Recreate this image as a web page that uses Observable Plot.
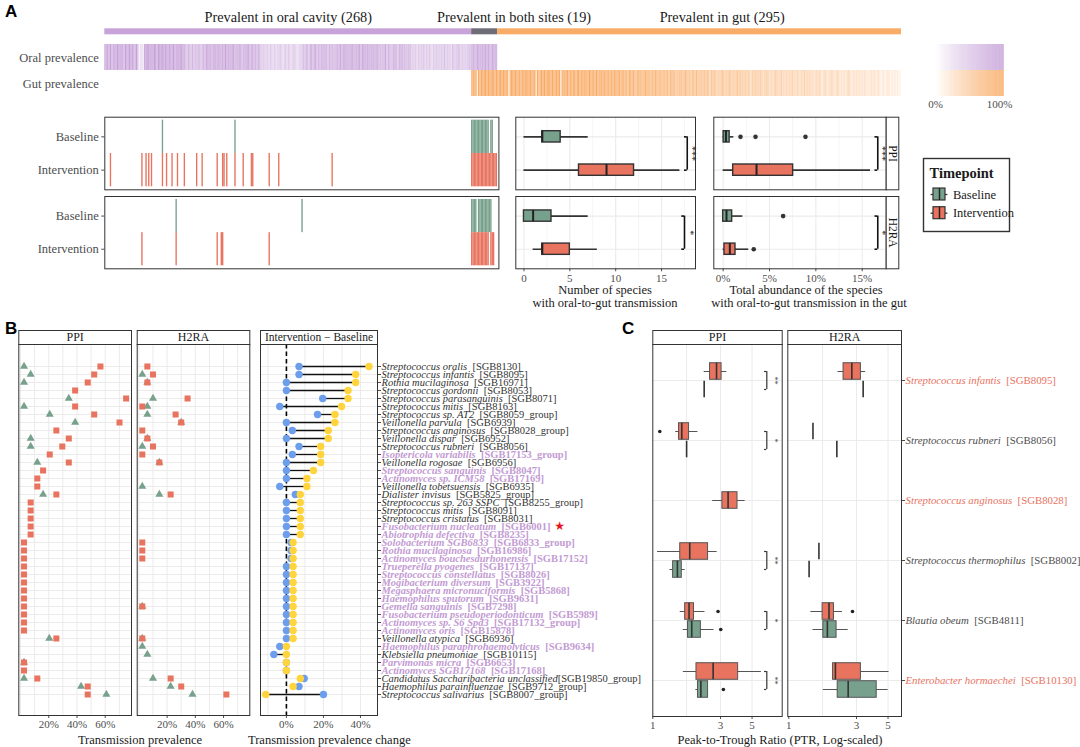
<!DOCTYPE html>
<html>
<head>
<meta charset="utf-8">
<script src="https://cdn.jsdelivr.net/npm/d3@7"></script>
<script src="https://cdn.jsdelivr.net/npm/@observablehq/plot@0.6"></script>
<style>
html,body{margin:0;padding:0;background:#fff;}
#root{position:relative;width:1080px;height:747px;overflow:hidden;background:#fff;}
#root svg text{font-family:'Liberation Serif','Times New Roman',serif;}
</style>
</head>
<body>
<div id="root"></div>
<script>
// ======================= DATA =======================
// Panel A – species groups
const groupNames = ["Prevalent in oral cavity (268)", "Prevalent in both sites (19)", "Prevalent in gut (295)"];
const groupCounts = [268, 19, 295];
const groupLabelAt = [134, 299, 451];          // label anchor (species index)
// Prevalence per species, in ninths (0 = 0%, 9 = 100%), read from the heat strips
const oralPrevalenceDeciles = [
  "8787968789","7978698798","8779613328","9898789879","8988978878",
  "9787988876","5765756576","5676878768","7877868797","8687876787",
  "6768786786","7676545445","3543534454","3453543454","3344565765",
  "7767857676","8675767576","7786878768","7876878687","8687687687",
  "6757685766","5876576857","6576454535","4546354543","5454545464",
  "5453654565","4545456578","6787868787","8678787"];
const gutPrevalenceDeciles = [
  "8979297989","9897989798","8989798279","9798797898","8979879297",
  "7989798979","8798928797","9787987897","8797879878","7978797887",
  "8787978787","7877687786","6787676876","7676867676","6767576765",
  "6576567656","5665756565","6565465654","5456545465","4545646454",
  "5454354545","4543454434","3454345343","4343534343","3435343433",
  "3343432343","2334323432","3232343223","2323232322","2232322321",
  "2212221212","1211"];
const timepoints = ["Baseline", "Intervention"];
// species index with oral-to-gut transmission (single index or [from, to] run)
const transPPIBaseline = [42, 95, [268, 280], [282, 283]];
const transPPIIntervention = [4, 27, 30, 32, 34, 42, 45, 49, 53, 58, 67, 71, 82, 86, 87, 89, 95, 101, 107, 108, 120, 127, 166, [268, 286]];
const transH2RABaseline = [52, 144, [268, 271], [273, 282]];
const transH2RAIntervention = [27, 52, 82, 85, 86, 120, [268, 280], [282, 284]];
// boxplot stats [min, q1, median, q3, max] for Baseline, Intervention
const countPPI = [[0, 2, 2, 4, 7], [0, 6, 9, 12, 17]];
const countH2RA = [[0, 0, 1, 3, 7], [1, 2, 2, 5, 8]];
const abundPPI = [[0, 0.05, 0.3, 0.7, 1.15], [0, 1.08, 3.6, 7.55, 15.9]];
const abundH2RA = [[0, 0, 0.36, 0.97, 2.12], [0, 0.14, 0.72, 1.33, 2.76]];
const abundPPIOutliers = [[0, 1.87], [0, 3.49], [0, 8.88]];
const abundH2RAOutliers = [[0, 6.47], [1, 3.3]];

// Panel B
const speciesB = [
  "Streptococcus oralis|[SGB8130]", "Streptococcus infantis|[SGB8095]", "Rothia mucilaginosa|[SGB16971]",
  "Streptococcus gordonii|[SGB8053]", "Streptococcus parasanguinis|[SGB8071]", "Streptococcus mitis|[SGB8163]",
  "Streptococcus sp. AT2|[SGB8059_group]", "Veillonella parvula|[SGB6939]", "Streptococcus anginosus|[SGB8028_group]",
  "Veillonella dispar|[SGB6952]", "Streptococcus rubneri|[SGB8056]", "Isoptericola variabilis|[SGB17153_group]",
  "Veillonella rogosae|[SGB6956]", "Streptococcus sanguinis|[SGB8047]", "Actinomyces sp. ICM58|[SGB17169]",
  "Veillonella tobetsuensis|[SGB6935]", "Dialister invisus|[SGB5825_group]", "Streptococcus sp. 263 SSPC|[SGB8255_group]",
  "Streptococcus mitis|[SGB8091]", "Streptococcus cristatus|[SGB8031]", "Fusobacterium nucleatum|[SGB6001]",
  "Abiotrophia defectiva|[SGB8235]", "Solobacterium SGB6833|[SGB6833_group]", "Rothia mucilaginosa|[SGB16986]",
  "Actinomyces bouchesdurhonensis|[SGB17152]", "Trueperella pyogenes|[SGB17137]", "Streptococcus constellatus|[SGB8026]",
  "Mogibacterium diversum|[SGB3922]", "Megasphaera micronuciformis|[SGB5868]", "Haemophilus sputorum|[SGB9631]",
  "Gemella sanguinis|[SGB7298]", "Fusobacterium pseudoperiodonticum|[SGB5989]", "Actinomyces sp. S6 Spd3|[SGB17132_group]",
  "Actinomyces oris|[SGB15878]", "Veillonella atypica|[SGB6936]", "Haemophilus paraphrohaemolyticus|[SGB9634]",
  "Klebsiella pneumoniae|[SGB10115]", "Parvimonas micra|[SGB6653]", "Actinomyces SGB17168|[SGB17168]",
  "Candidatus Saccharibacteria unclassified|[SGB19850_group]", "Haemophilus parainfluenzae|[SGB9712_group]",
  "Streptococcus salivarius|[SGB8007_group]"];
const oralOnlyB = [0,0,0,0,0,0,0,0,0,0,0,1,0,1,1,0,0,0,0,0,1,1,1,1,1,1,1,1,1,1,1,1,1,1,0,1,0,1,1,0,0,0];
const N = null;
const ppiBaseB = [2.5,7.2,2.5,N,34.2,2.5,20.7,38.7,N,7.2,7.2,N,11.9,N,N,N,16,N,N,N,N,N,N,N,N,N,N,N,N,N,N,N,N,N,20.4,N,N,2.5,N,2.5,42.9,60.8];
const ppiIntB = [56.6,52.2,47.6,38.7,74.8,38.7,52.2,70.1,25.4,34.2,29.6,20.7,34.2,16,11.9,11.9,25.4,7.2,7.2,7.2,7.2,7.2,2.5,2.5,2.5,2.5,2.5,2.5,2.5,2.5,2.5,2.5,2.5,2.5,25.4,N,N,2.5,2.5,11.9,47.6,47.6];
const h2raBaseB = [N,2.4,6,N,10,6,6,30,N,6,2.4,N,14.5,N,N,2.4,14.5,N,N,N,N,N,N,N,N,N,N,N,N,N,2.4,N,N,N,2.4,2.4,6,N,N,10,22.5,38];
const h2raIntB = [6,10,6,N,34.5,2.4,26,30,2.4,6,10,2.4,14.5,N,N,N,22.5,N,N,N,N,N,2.4,2.4,2.4,N,N,N,N,N,2.4,N,N,N,2.4,N,N,N,N,22.5,30,62];
const changeH2RA = [6.8,6.8,0,0,19.6,-3.6,16.8,0,3.2,0,6.8,3.2,0,0,0,-3.6,4.8,0,0,0,0,0,2.5,2.5,2.5,0,0,0,0,0,0,0,0,0,0,-3.6,-6.8,0,0,9.6,6.8,20];
const changePPI = [44.6,37.4,37.4,33.3,33.3,29.8,26.2,26.2,22.6,22.6,18.5,18.5,18.5,14.6,11.1,11.1,7.5,7.5,7.5,7.5,7.5,7.5,3.6,3.6,3.6,3.6,3.6,3.6,3.6,3.6,3.6,3.6,3.6,3.6,3.6,0,0,0,0,7.5,3.6,-11.2];

// Panel C
const speciesC = ["Streptococcus infantis|[SGB8095]", "Streptococcus rubneri|[SGB8056]", "Streptococcus anginosus|[SGB8028]",
  "Streptococcus thermophilus|[SGB8002]", "Blautia obeum|[SGB4811]", "Enterobacter hormaechei|[SGB10130]"];
const highlightC = [1, 0, 1, 0, 0, 1];
// [species, timepoint (0 Baseline / 1 Intervention), min, q1, median, q3, max]
const ptrPPI = [
  [0,1,2.30,2.53,2.81,3.05,3.32],[0,0,2.30,2.30,2.30,2.30,2.30],
  [1,1,1.45,1.53,1.60,1.80,2.08],[1,0,1.73,1.73,1.73,1.73,1.73],
  [2,1,2.64,3.09,3.39,3.95,4.47],
  [3,1,1.08,1.56,1.82,2.45,2.84],[3,0,1.32,1.39,1.49,1.60,1.69],
  [4,1,1.56,1.69,1.80,1.95,2.33],[4,0,1.64,1.77,1.88,2.18,2.70],
  [5,1,1.64,2.03,2.66,3.99,5.82],[5,0,2.01,2.08,2.18,2.45,2.45]];
const ptrPPIOutliers = [[1,1,1.12],[4,1,2.88],[4,0,3.01],[5,0,3.14]];
const ptrH2RA = [
  [0,1,2.22,2.43,2.78,3.22,3.48],[0,0,3.34,3.34,3.34,3.34,3.34],
  [1,1,1.48,1.48,1.48,1.48,1.48],[1,0,2.18,2.18,2.18,2.18,2.18],
  [3,1,1.63,1.63,1.63,1.63,1.63],[3,0,1.39,1.39,1.39,1.39,1.39],
  [4,1,1.43,1.73,1.92,2.08,2.39],[4,0,1.48,1.75,1.87,2.17,2.62],
  [5,1,2.05,2.05,2.13,3.22,5.08],[5,0,1.75,2.21,2.62,4.16,5.01]];
const ptrH2RAOutliers = [[4,1,2.81]];
const ptrSignifPPI = [[0,"**"],[1,"*"],[3,"**"],[4,"*"],[5,"**"]];

// ======================= STYLE =======================
const W = 1080, H = 747;
const SERIF = "'Liberation Serif','Times New Roman',serif";
const SANS = "'Liberation Sans',Arial,sans-serif";
const PURPLE = "#C7A3D9", ORANGE = "#F9AC68", GRAYBAR = "#6E6D78";
const GREEN = "#78A18D", RED = "#E8735F", BLUE = "#6D9EEB", YELLOW = "#FFD43D";
const PURPLE_TXT = "#C39BD3", SALMON_TXT = "#E8735F";
const GRID = "#EBEBEB";
const NS = "http://www.w3.org/2000/svg";
const root = document.getElementById("root");

function P(frame, opts, fontSize = 11) {
  const [x0, x1, y0, y1] = frame;
  const svg = Plot.plot({
    width: W, height: H,
    marginLeft: x0, marginRight: W - x1, marginTop: y0, marginBottom: H - y1,
    style: `font-family:${SERIF};font-size:${fontSize}px;background:transparent;overflow:visible;color:#4d4d4d;position:absolute;left:0;top:0;`,
    ...opts
  });
  root.appendChild(svg);
  return svg;
}
function label(txt, x, y, o = {}) {
  const {size = 12.5, anchor = "middle", weight = "normal", family = SERIF, color = "#1a1a1a"} = o;
  const d = document.createElement("div");
  d.textContent = txt;
  const tx = anchor === "middle" ? "-50%" : anchor === "end" ? "-100%" : "0";
  Object.assign(d.style, {position: "absolute", left: x + "px", top: y + "px", fontSize: size + "px",
    fontFamily: family, fontWeight: weight, color, whiteSpace: "nowrap", lineHeight: "1",
    transform: `translate(${tx},-50%)`});
  root.appendChild(d);
}
function expandRuns(runs) { return runs.flatMap(r => Array.isArray(r) ? d3.range(r[0], r[1] + 1) : [r]); }
function stripBox(frame, txt, rotate = 0, fontSize = 12) {
  return P(frame, {marks: [
    Plot.frame({fill: "white", stroke: "#333"}),
    Plot.text([txt], {frameAnchor: "middle", text: d => d, rotate, fontSize, fill: "#1a1a1a"})
  ]});
}
function richText(svg) {
  for (const t of svg.querySelectorAll("text")) {
    const s = t.textContent;
    if (!s.includes("|")) continue;
    const [it, rest] = s.split("|");
    while (t.firstChild) t.removeChild(t.firstChild);
    const a = document.createElementNS(NS, "tspan");
    a.setAttribute("font-style", "italic"); a.textContent = it; t.appendChild(a);
    const b = document.createElementNS(NS, "tspan");
    b.textContent = (it.endsWith("unclassified") ? "" : "\u00a0\u00a0") + rest; t.appendChild(b);
    if (rest === "[SGB6001]") {
      const c = document.createElementNS(NS, "tspan");
      c.setAttribute("fill", "#E8141C"); c.setAttribute("style", "font-family:'DejaVu Sans',sans-serif;font-weight:normal");
      c.setAttribute("font-size", "12"); c.textContent = " \u2605"; t.appendChild(c);
    }
  }
}

// ======================= PANEL A =======================
label("A", 5, 11, {size: 17, weight: "bold", family: SANS, anchor: "start", color: "#000"});

const ends = d3.cumsum(groupCounts);
const groups = groupNames.map((n, i) => ({name: n, x1: i ? ends[i - 1] : 0, x2: ends[i],
  color: [PURPLE, GRAYBAR, ORANGE][i], lx: groupLabelAt[i]}));
const nSpecies = d3.sum(groupCounts);
P([104.3, 901, 28.3, 34.3], {
  x: {domain: [0, nSpecies], axis: null}, color: {type: "identity"},
  marks: [
    Plot.barX(groups, {x1: "x1", x2: "x2", fill: "color"}),
    Plot.text(groups, {x: "lx", frameAnchor: "top", lineAnchor: "middle", dy: -11, text: "name", fontSize: 14.3, fill: "#1a1a1a"})
  ]
});

const rowsA = ["Oral prevalence", "Gut prevalence"];
const heat = [
  ...[...oralPrevalenceDeciles.join("")].map((c, i) => ({row: rowsA[0], i, v: +c / 9})),
  ...[...gutPrevalenceDeciles.join("")].map((c, i) => ({row: rowsA[1], i: i + groupCounts[0], v: +c / 9}))
];
P([104.3, 901, 43.3, 96.7], {
  x: {domain: [0, nSpecies], axis: null},
  y: {domain: rowsA, padding: 0, axis: "left", tickSize: 0, tickPadding: 6, label: null},
  color: {type: "identity"}, opacity: {domain: [0, 1], range: [0, 1]},
  marks: [Plot.barX(heat, {x1: "i", x2: d => d.i + 1, y: "row", fill: d => d.row === rowsA[0] ? PURPLE : ORANGE, fillOpacity: "v"})]
}, 12.5);

// gradient legend
const gradSteps = d3.range(0, 115).map(k => -0.08 + k * 0.01);
const grad = rowsA.flatMap(r => gradSteps.map(s => ({row: r, s, v: Math.max(0, Math.min(1, s))})));
P([930, 1003, 43.3, 96.7], {
  x: {domain: [-0.08, 1.06], axis: "bottom", ticks: [0, 1], tickFormat: d3.format(".0%"), tickSize: 0, tickPadding: 3, label: null},
  y: {domain: rowsA, padding: 0, axis: null},
  color: {type: "identity"}, opacity: {domain: [0, 1], range: [0, 1]},
  marks: [Plot.barX(grad, {x1: "s", x2: d => d.s + 0.0105, y: "row", fill: d => d.row === rowsA[0] ? PURPLE : ORANGE, fillOpacity: "v"})]
});

// transmission strips
function stripA(frame, base, inter) {
  const data = [...expandRuns(base).map(i => ({i, t: 0})), ...expandRuns(inter).map(i => ({i, t: 1}))];
  return P(frame, {
    x: {domain: [0, 288], axis: null},
    y: {domain: [-0.5, 1.5], range: [frame[2] + 3, frame[3] - 3], axis: "left", ticks: [0, 1],
        tickFormat: t => timepoints[t], tickSize: 3, tickPadding: 3, label: null},
    color: {type: "identity"},
    marks: [
      Plot.rect(data, {x1: "i", x2: d => d.i + 1, y1: d => d.t - 0.5, y2: d => d.t + 0.5, fill: d => d.t ? RED : GREEN}),
      Plot.frame({stroke: "#333"})
    ]
  }, 12.5);
}
stripA([104.3, 498.4, 116.7, 189.3], transPPIBaseline, transPPIIntervention);
stripA([104.3, 498.4, 196, 268.3], transH2RABaseline, transH2RAIntervention);

function boxA(frame, xDomain, stats, outs, sig, bx, tx, arm, showAxis, fmt) {
  const rows = stats.map((s, t) => ({t, lo: s[0], q1: s[1], med: s[2], q3: s[3], hi: s[4]}));
  const out = outs.map(([t, v]) => ({t, v}));
  const h = 0.17;
  return P(frame, {
    x: {domain: xDomain, axis: showAxis ? "bottom" : null, ticks: [0, 5, 10, 15], tickFormat: fmt, tickSize: 3, tickPadding: 2, label: null},
    y: {domain: [-0.5, 1.5], range: [frame[2] + 3, frame[3] - 3], axis: null},
    color: {type: "identity"},
    marks: [
      Plot.ruleX([2.5, 7.5, 12.5, 17.5], {stroke: "#F2F2F2", strokeWidth: 0.8}),
      Plot.ruleX([0, 5, 10, 15], {stroke: GRID, strokeWidth: 1.1}),
      Plot.ruleY([0, 1], {stroke: GRID, strokeWidth: 1.1}),
      Plot.ruleY(rows, {y: "t", x1: "lo", x2: "hi", stroke: "#333", strokeWidth: 1.6}),
      Plot.rect(rows, {x1: "q1", x2: "q3", y1: d => d.t - h, y2: d => d.t + h, fill: d => d.t ? RED : GREEN, stroke: "#333", strokeWidth: 1.4}),
      Plot.ruleX(rows, {x: "med", y1: d => d.t - h, y2: d => d.t + h, stroke: "#222", strokeWidth: 2}),
      Plot.dot(out, {x: "v", y: "t", r: 2.3, fill: "#333"}),
      Plot.ruleX([bx], {x: d => d, y1: 0, y2: 1, stroke: "#111", strokeWidth: 1.6}),
      Plot.ruleY([0, 1], {y: d => d, x1: bx - arm, x2: bx, stroke: "#111", strokeWidth: 1.6}),
      Plot.text([sig], {x: tx, y: 0.5, text: d => d, rotate: 90, fontSize: 10, fill: "#222"}),
      Plot.frame({stroke: "#333"})
    ]
  });
}
const pct = d => d + "%";
boxA([515.3, 695, 116.7, 189.3], [-0.89, 18.7], countPPI, [], "***", 17.8, 18.3, 0.3, false, d => d);
boxA([515.3, 695, 196, 268.3], [-0.89, 18.7], countH2RA, [], "*", 17.5, 18.15, 0.3, true, d => d);
boxA([713.3, 885.7, 116.7, 189.3], [-1.01, 17.59], abundPPI, abundPPIOutliers, "***", 16.68, 17.2, 0.3, false, pct);
boxA([713.3, 885.7, 196, 268.3], [-1.01, 17.59], abundH2RA, abundH2RAOutliers, "*", 16.68, 17.2, 0.3, true, pct);
stripBox([885.7, 898.3, 116.7, 189.3], "PPI", 90, 11.5);
stripBox([885.7, 898.3, 196, 268.3], "H2RA", 90, 11.5);

label("Number of species", 605, 290);
label("with oral-to-gut transmission", 605, 302.7);
label("Total abundance of the species", 806, 290);
label("with oral-to-gut transmission in the gut", 809, 302.7);

// legend (Timepoint)
P([923, 1009, 158, 231], {
  x: {domain: [0, 1], range: [933, 945], axis: null},
  y: {domain: [0, 1], range: [194, 212.7], axis: null},
  color: {type: "identity"},
  marks: [
    Plot.frame({stroke: "#333", strokeWidth: 1.4, fill: "white"}),
    Plot.text(["Timepoint"], {frameAnchor: "top-left", lineAnchor: "middle", dx: 6, dy: 14.7, text: d => d, fontWeight: "bold", fontSize: 14.5, fill: "#1a1a1a"}),
    Plot.ruleY([0, 1], {y: d => d, x1: -0.2, x2: 1.2, stroke: "#333", strokeWidth: 1.3}),
    Plot.rect([0, 1], {x1: 0, x2: 1, y1: d => d - 0.32, y2: d => d + 0.32, fill: d => d ? RED : GREEN, stroke: "#333", strokeWidth: 1.2}),
    Plot.ruleX([0, 1], {x: 0.5, y1: d => d - 0.32, y2: d => d + 0.32, stroke: "#222", strokeWidth: 1.5}),
    Plot.text(timepoints, {x: 1.2, y: (d, i) => i, dx: 5, textAnchor: "start", text: d => d, fontSize: 12.5, fill: "#1a1a1a"})
  ]
});

// ======================= PANEL B =======================
label("B", 5, 328, {size: 17, weight: "bold", family: SANS, anchor: "start", color: "#000"});
const rowsB = speciesB.map((name, i) => ({name, oral: oralOnlyB[i], ppiB: ppiBaseB[i], ppiI: ppiIntB[i],
  h2B: h2raBaseB[i], h2I: h2raIntB[i], dH: changeH2RA[i], dP: changePPI[i]}));
const yB = {type: "point", domain: speciesB, range: [350, 710]};

function prevPanel(frame, bKey, iKey) {
  return P(frame, {
    x: {domain: [-1.2, 78.6], axis: "bottom", ticks: [20, 40, 60], tickFormat: pct, tickSize: 3, tickPadding: 2, label: null},
    y: {...yB, axis: null},
    marks: [
      Plot.ruleY(speciesB, {y: d => d, stroke: GRID}),
      Plot.ruleX([0, 10, 20, 30, 40, 50, 60, 70], {stroke: GRID}),
      Plot.dot(rowsB.filter(d => d[bKey] != null), {x: bKey, y: "name", symbol: "triangle", r: 3, fill: GREEN}),
      Plot.dot(rowsB.filter(d => d[iKey] != null), {x: iKey, y: "name", symbol: "square", r: 3.4, fill: RED}),
      Plot.frame({stroke: "#333"})
    ]
  });
}
prevPanel([18.3, 131, 344, 715], "ppiB", "ppiI");
prevPanel([136.7, 249.3, 344, 715], "h2B", "h2I");
stripBox([18.3, 131, 330, 344], "PPI", 0, 12);
stripBox([136.7, 249.3, 330, 344], "H2RA", 0, 12);
stripBox([260, 377, 330, 344], "Intervention \u2212 Baseline", 0, 11.5);

const svgB = P([260, 377, 344, 715], {
  x: {domain: [-14, 49.2], axis: "bottom", ticks: [0, 20, 40], tickFormat: pct, tickSize: 3, tickPadding: 2, label: null},
  y: {...yB, axis: "right", ticks: speciesB, tickFormat: () => "", tickSize: 3, label: null},
  color: {type: "identity"},
  marks: [
    Plot.ruleY(speciesB, {y: d => d, stroke: GRID}),
    Plot.ruleX([-10, 0, 10, 20, 30, 40], {stroke: GRID}),
    Plot.ruleX([0], {stroke: "#000", strokeWidth: 1.6, strokeDasharray: "4.5,3"}),
    Plot.ruleY(rowsB, {y: "name", x1: "dH", x2: "dP", stroke: "#111", strokeWidth: 1.3}),
    Plot.dot(rowsB, {x: "dH", y: "name", r: 3.7, fill: BLUE}),
    Plot.dot(rowsB, {x: "dP", y: "name", r: 3.7, fill: YELLOW}),
    Plot.text(rowsB.filter(d => !d.oral), {y: "name", frameAnchor: "right", dx: 4, textAnchor: "start", text: "name",
      fill: "#333", fontSize: 10.5}),
    Plot.text(rowsB.filter(d => d.oral), {y: "name", frameAnchor: "right", dx: 4, textAnchor: "start", text: "name",
      fill: PURPLE_TXT, fontSize: 10.5, fontWeight: "bold"}),
    Plot.frame({stroke: "#333"})
  ]
});
richText(svgB);
label("Transmission prevalence", 140, 740);
label("Transmission prevalence change", 248, 740, {anchor: "start"});

// ======================= PANEL C =======================
label("C", 622, 328, {size: 17, weight: "bold", family: SANS, anchor: "start", color: "#000"});
function panelC(frame, stats, outs, sigs, domain, showLabels) {
  const rows = stats.map(s => ({sp: s[0], t: s[1], lo: s[2], q1: s[3], med: s[4], q3: s[5], hi: s[6]}));
  const cnt = d3.rollup(rows, v => v.length, d => d.sp);
  const off = (sp, t) => cnt.get(sp) > 1 ? (t ? -0.15 : 0.15) : 0;
  rows.forEach(r => r.y = r.sp + off(r.sp, r.t));
  const o = outs.map(([sp, t, v]) => ({v, y: sp + off(sp, t)}));
  const h = 0.138;
  const idx = speciesC.map((d, i) => i);
  const marks = [
    Plot.ruleX([1.73, 3, 5], {stroke: GRID}),
    Plot.ruleY(idx, {y: d => d, stroke: GRID}),
    Plot.ruleY(rows, {y: "y", x1: "lo", x2: "hi", stroke: "#555", strokeWidth: 1}),
    Plot.rect(rows, {x1: "q1", x2: "q3", y1: d => d.y - h, y2: d => d.y + h, fill: d => d.t ? RED : GREEN, stroke: "#555", strokeWidth: 1}),
    Plot.ruleX(rows, {x: "med", y1: d => d.y - h, y2: d => d.y + h, stroke: "#333", strokeWidth: 1.6}),
    Plot.dot(o, {x: "v", y: "y", r: 1.8, fill: "#222"}),
    Plot.frame({stroke: "#333"})
  ];
  if (sigs.length) {
    const sg = sigs.map(([sp, s]) => ({sp, s}));
    marks.push(
      Plot.ruleX(sg, {x: 6.35, y1: d => d.sp - 0.15, y2: d => d.sp + 0.15, stroke: "#333", strokeWidth: 1.2}),
      Plot.ruleY(sg, {y: d => d.sp - 0.15, x1: 6.12, x2: 6.35, stroke: "#333", strokeWidth: 1.2}),
      Plot.ruleY(sg, {y: d => d.sp + 0.15, x1: 6.12, x2: 6.35, stroke: "#333", strokeWidth: 1.2}),
      Plot.text(sg, {x: 7.2, y: "sp", text: "s", rotate: 90, fontSize: 8, fill: "#333"})
    );
  }
  if (showLabels) {
    marks.push(Plot.text(speciesC, {y: (d, i) => i, frameAnchor: "right", dx: 4, textAnchor: "start", text: d => d,
      fill: (d, i) => highlightC[i] ? SALMON_TXT : "#4d4d4d", fontSize: 10.8}));
  }
  return P(frame, {
    x: {type: "log", domain, axis: "bottom", ticks: [1, 3, 5], tickFormat: d => String(d), tickSize: 3, tickPadding: 2, label: null},
    y: {domain: [-0.6, 5.6], range: [344, 716], axis: showLabels ? "right" : null, ticks: idx, tickFormat: () => "", tickSize: 3, label: null},
    color: {type: "identity"},
    marks
  });
}
panelC([652.3, 781.7, 344, 716], ptrPPI, ptrPPIOutliers, ptrSignifPPI, [1, 8.15], false);
const svgC = panelC([787.3, 901, 344, 716], ptrH2RA, ptrH2RAOutliers, [], [0.984, 6.22], true);
richText(svgC);
stripBox([652.3, 781.7, 330, 344], "PPI", 0, 12);
stripBox([787.3, 901, 330, 344], "H2RA", 0, 12);
label("Peak-to-Trough Ratio (PTR, Log-scaled)", 780, 740);
</script>
</body>
</html>
